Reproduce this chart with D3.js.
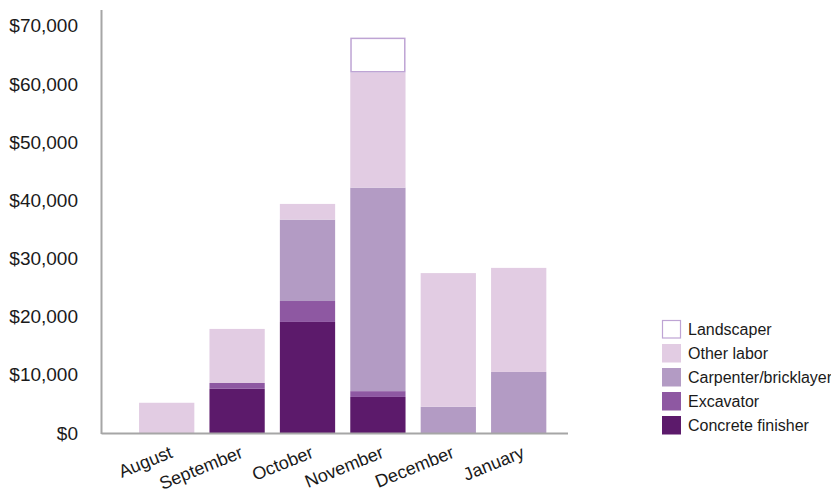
<!DOCTYPE html>
<html>
<head>
<meta charset="utf-8">
<script src="https://cdn.jsdelivr.net/npm/d3@7/dist/d3.min.js"></script>
<style>
  html, body { margin: 0; padding: 0; background: #fff; }
  svg { display: block; font-family: "Liberation Sans", Arial, sans-serif; }
</style>
</head>
<body>
<svg id="chart" width="831" height="494"></svg>
<script>
const months = ["August", "September", "October", "November", "December", "January"];
const seriesNames = ["Concrete finisher", "Excavator", "Carpenter/bricklayer", "Other labor", "Landscaper"];
const concreteFinisher = [0, 7600, 19100, 6200, 0, 0];
const excavator = [0, 1000, 3600, 1000, 0, 0];
const carpenterBricklayer = [0, 0, 14000, 35000, 4500, 10500];
const otherLabor = [5200, 9300, 2700, 19800, 23000, 17900];
const landscaper = [0, 0, 0, 6000, 0, 0];
const yTicks = [0, 10000, 20000, 30000, 40000, 50000, 60000, 70000];
const yMax = 72750;

const colors = {
  "Concrete finisher": "#5c1a6b",
  "Excavator": "#8e58a2",
  "Carpenter/bricklayer": "#b39bc4",
  "Other labor": "#e2cce3",
  "Landscaper": "#ffffff"
};
const landscaperStroke = "#bea4d4";

const seriesValues = [concreteFinisher, excavator, carpenterBricklayer, otherLabor, landscaper];
const table = months.map((m, i) => {
  const row = { month: m };
  seriesNames.forEach((s, k) => { row[s] = seriesValues[k][i]; });
  return row;
});
const stacked = d3.stack().keys(seriesNames)(table);

const svg = d3.select("#chart");
const axisLeft = 101.5, axisRight = 568, baseY = 433, topY = 10;

const x = d3.scaleBand().domain(months).range([131.5, 553.9]).paddingInner(0.215).paddingOuter(0.1075);
const y = d3.scaleLinear().domain([0, yMax]).range([baseY, topY]);

// bars
const layers = svg.append("g").selectAll("g").data(stacked).join("g")
  .attr("fill", d => colors[d.key]);
layers.selectAll("rect").data(d => d.map(v => Object.assign(v, { key: d.key }))).join("rect")
  .filter(d => d[1] - d[0] > 0)
  .attr("x", d => x(d.data.month))
  .attr("width", x.bandwidth())
  .attr("y", d => y(d[1]))
  .attr("height", d => y(d[0]) - y(d[1]))
  .attr("stroke", d => d.key === "Landscaper" ? landscaperStroke : "none")
  .attr("stroke-width", 1.5)
  .each(function(d) {
    if (d.key === "Landscaper") {
      d3.select(this)
        .attr("x", x(d.data.month) + 0.75)
        .attr("width", x.bandwidth() - 1.5)
        .attr("y", y(d[1]) + 0.75)
        .attr("height", y(d[0]) - y(d[1]) - 1.5);
    }
  });

// axes lines
svg.append("line").attr("x1", axisLeft).attr("x2", axisLeft).attr("y1", topY).attr("y2", baseY + 1)
  .attr("stroke", "#a6a6a6").attr("stroke-width", 2);
svg.append("line").attr("x1", axisLeft).attr("x2", axisRight).attr("y1", baseY + 0.5).attr("y2", baseY + 0.5)
  .attr("stroke", "#a6a6a6").attr("stroke-width", 2);

// y labels
const fmt = d3.format("$,");
svg.append("g").selectAll("text").data(yTicks).join("text")
  .attr("x", 78)
  .attr("y", d => y(d))
  .attr("text-anchor", "end")
  .attr("dominant-baseline", "central")
  .attr("font-size", 19)
  .attr("fill", "#1a1a1a")
  .text(d => fmt(d));

// x labels
svg.append("g").selectAll("text").data(months).join("text")
  .attr("transform", d => `translate(${x(d) + x.bandwidth() / 2 + 7},${457}) rotate(-22)`)
  .attr("text-anchor", "end")
  .attr("font-size", 18)
  .attr("fill", "#1a1a1a")
  .text(d => d);

// legend
const legendOrder = seriesNames.slice().reverse();
const lg = svg.append("g");
legendOrder.forEach((name, i) => {
  const yy = 320 + i * 24;
  lg.append("rect")
    .attr("x", name === "Landscaper" ? 662.5 : 662).attr("y", name === "Landscaper" ? yy + 0.5 : yy)
    .attr("width", name === "Landscaper" ? 18 : 19).attr("height", name === "Landscaper" ? 17.5 : 18.5)
    .attr("fill", colors[name])
    .attr("stroke", name === "Landscaper" ? landscaperStroke : "none")
    .attr("stroke-width", 1.2);
  lg.append("text")
    .attr("x", 688).attr("y", yy + 9.5)
    .attr("dominant-baseline", "central")
    .attr("font-size", 16)
    .attr("fill", "#1a1a1a")
    .text(name);
});
</script>
</body>
</html>
